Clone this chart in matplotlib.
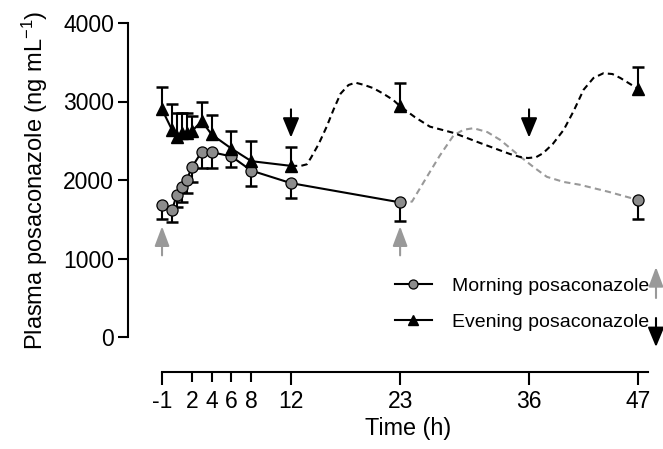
import numpy as np
import matplotlib
matplotlib.use("Agg")
import matplotlib.pyplot as plt

plt.rcParams['font.family'] = ['Liberation Sans', 'DejaVu Sans']
plt.rcParams['mathtext.fontset'] = 'custom'
plt.rcParams['mathtext.rm'] = 'Liberation Sans'
plt.rcParams['mathtext.it'] = 'Liberation Sans:italic'

# measured means (ng/mL) and one-sided SD
time_h = [-1, 0, 0.5, 1, 1.5, 2, 3, 4, 6, 8, 12, 23, 47]
morning_mean = [1680, 1615, 1815, 1905, 2005, 2160, 2360, 2355, 2300, 2120, 1960, 1715, 1745]
morning_sd = [180, 150, 160, 180, 170, 180, 205, 200, 140, 200, 190, 235, 245]
evening_mean = [2900, 2640, 2550, 2600, 2600, 2620, 2750, 2580, 2400, 2240, 2180, 2940, 3160]
evening_sd = [290, 330, 300, 250, 250, 200, 240, 250, 220, 260, 240, 300, 280]

# simulated profiles (dashed)
morning_sim_t = [23, 24.2, 25.7, 27.0, 28.4, 29.4, 30.4, 31.8, 33.1, 35.1, 36.5, 37.8, 39.5, 41.1, 44, 47]
morning_sim_y = [1715, 1725, 2040, 2310, 2570, 2640, 2660, 2610, 2510, 2300, 2160, 2040, 1975, 1940, 1850, 1745]
evening_sim_t = [12, 13.0, 13.6, 14.0, 14.8, 15.6, 16.3, 17.0, 17.8, 18.5, 19.4, 20.3, 21.3, 22.3, 23,
                 24.5, 26, 28.4, 31.1, 34.1, 35.2, 35.9, 36.7, 37.4, 38.4, 39.5, 40.5, 41.5, 42.5, 43.5, 44.4, 45.2, 47]
evening_sim_y = [2180, 2180, 2200, 2280, 2460, 2680, 2900, 3100, 3210, 3240, 3210, 3170, 3100, 3020, 2940,
                 2800, 2680, 2600, 2470, 2330, 2290, 2280, 2290, 2340, 2460, 2640, 2880, 3150, 3300, 3360, 3350, 3300, 3160]

morning_doses = [-1, 23]
evening_doses = [12, 36]
major_ticks = [-1, 12, 23, 36, 47]
minor_ticks = [2, 4, 6, 8]
y_ticks = [0, 1000, 2000, 3000, 4000]

gray_fill = '#8c8c8c'
arrow_gray = '#999999'

fig = plt.figure(figsize=(6.63, 4.49), dpi=100)
ax = fig.add_axes([128 / 663, 1 - 337 / 449, 530 / 663, 314 / 449])

t = np.array(time_h)
mm = np.array(morning_mean)
em = np.array(evening_mean)
msd = np.array(morning_sd)
esd = np.array(evening_sd)

# error stems + caps (one sided)
ax.errorbar(t, mm, yerr=[msd, np.zeros_like(msd)], fmt='none', ecolor='black', elinewidth=1.5, capsize=0, zorder=1)
ax.plot(t, mm - msd, ls='none', marker='_', ms=8, mew=1.8, color='black', zorder=1)
ax.errorbar(t, em, yerr=[np.zeros_like(esd), esd], fmt='none', ecolor='black', elinewidth=1.5, capsize=0, zorder=1)
ax.plot(t, em + esd, ls='none', marker='_', ms=8, mew=1.8, color='black', zorder=1)

# dashed simulated profiles
ax.plot(morning_sim_t, morning_sim_y, ls=(0, (3, 2)), color=arrow_gray, lw=1.5, zorder=1.5)
ax.plot(evening_sim_t, evening_sim_y, ls=(0, (3, 2)), color='black', lw=1.5, zorder=1.5)

# solid observed lines
m_idx = t <= 23
e_idx = t <= 12
ax.plot(t[m_idx], mm[m_idx], color='black', lw=1.5, zorder=2)
ax.plot(t[e_idx], em[e_idx], color='black', lw=1.5, zorder=2)
ax.plot(t, mm, ls='none', marker='o', ms=8, mfc=gray_fill, mec='black', mew=0.9, zorder=3)
ax.plot(t, em, ls='none', marker='^', ms=8, mfc='black', mec='black', zorder=3)

# legend handles
h_m, = ax.plot([], [], color='black', lw=1.5, marker='o', ms=6.5, mfc=gray_fill, mec='black', mew=0.9)
h_e, = ax.plot([], [], color='black', lw=1.5, marker='^', ms=6.5, mfc='black', mec='black')
leg = ax.legend([h_m, h_e], ['Morning posaconazole', 'Evening posaconazole'],
                loc='upper left', bbox_to_anchor=(395 / 663, 1 - 277 / 449), bbox_transform=fig.transFigure,
                frameon=False, fontsize=14, handlelength=1.9, handletextpad=1.05, labelspacing=0.95,
                borderpad=0, borderaxespad=0)

# dose arrows
for d in morning_doses:
    ax.annotate('', xy=(d, 1410), xytext=(d, 1040),
                arrowprops=dict(arrowstyle='-|>,head_length=1.2,head_width=0.45', color=arrow_gray,
                                lw=1.5, shrinkA=0, shrinkB=0, mutation_scale=10))
for d in evening_doses:
    ax.annotate('', xy=(d, 2540), xytext=(d, 2900),
                arrowprops=dict(arrowstyle='-|>,head_length=1.2,head_width=0.5', color='black',
                                lw=1.5, shrinkA=0, shrinkB=0, mutation_scale=10))

# arrows next to legend text
ax.annotate('', xy=(656, 449 - 267), xytext=(656, 449 - 298), xycoords='figure pixels',
            textcoords='figure pixels', annotation_clip=False,
            arrowprops=dict(arrowstyle='-|>,head_length=1.2,head_width=0.45', color=arrow_gray,
                            lw=1.5, shrinkA=0, shrinkB=0, mutation_scale=10))
ax.annotate('', xy=(656, 449 - 347), xytext=(656, 449 - 318), xycoords='figure pixels',
            textcoords='figure pixels', annotation_clip=False,
            arrowprops=dict(arrowstyle='-|>,head_length=1.2,head_width=0.5', color='black',
                            lw=1.5, shrinkA=0, shrinkB=0, mutation_scale=10))

ax.set_xlim(-4.43, 49.0)
ax.set_ylim(0, 4000)
ax.set_xticks(major_ticks)
ax.set_xticklabels([str(v) for v in major_ticks])
ax.set_xticks(minor_ticks, minor=True)
ax.set_xticklabels([str(v) for v in minor_ticks], minor=True)
ax.set_yticks(y_ticks)

for s in ['top', 'right']:
    ax.spines[s].set_visible(False)
ax.spines['left'].set_bounds(0, 4000)
ax.spines['bottom'].set_bounds(-1, 48)
ax.spines['bottom'].set_position(('outward', 25))
ax.spines['left'].set_linewidth(1.5)
ax.spines['bottom'].set_linewidth(1.5)
ax.tick_params(axis='y', width=1.5, length=7, labelsize=16.5, pad=3)
ax.tick_params(axis='x', which='major', width=1.5, length=9.4, labelsize=16.5, pad=3.5)
ax.tick_params(axis='x', which='minor', width=1.5, length=7.2, labelsize=16.5, pad=5.7)

ax.set_xlabel('Time (h)', fontsize=16.8)
ax.xaxis.set_label_coords((408 - 128) / 530, -0.255)
ax.set_ylabel('Plasma posaconazole (ng mL$^{-1}$)', fontsize=17)
ax.yaxis.set_label_coords(-0.147, 0.5)

fig.savefig('out.png', dpi=100)
